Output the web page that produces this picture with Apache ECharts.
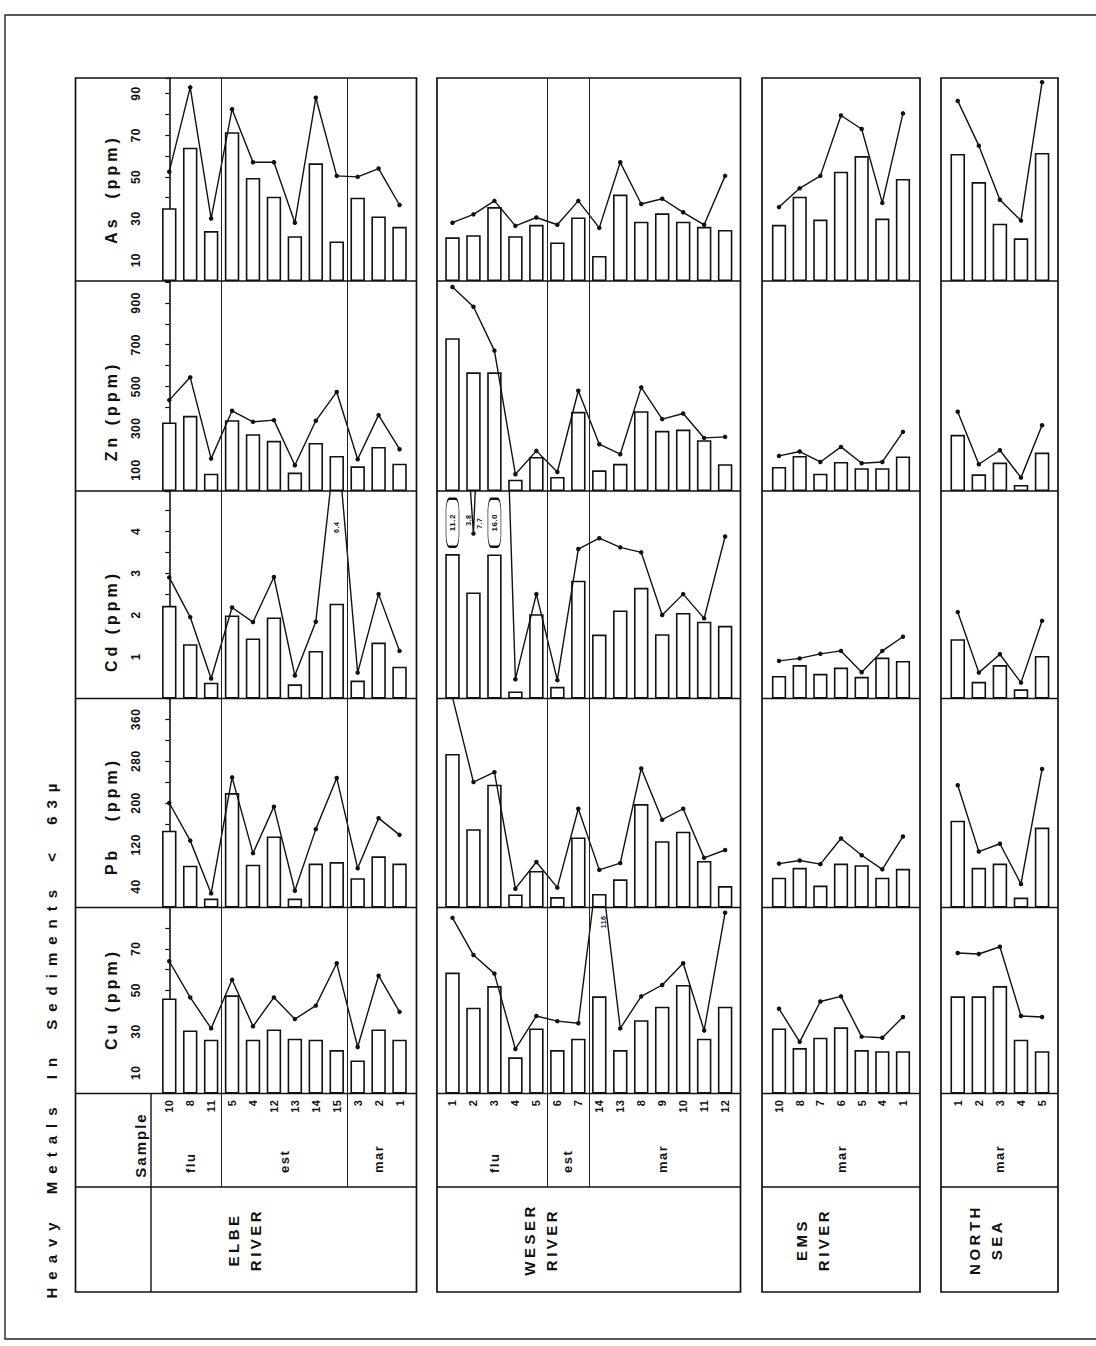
<!DOCTYPE html>
<html>
<head>
<meta charset="utf-8">
<script src="https://cdn.jsdelivr.net/npm/echarts@6/dist/echarts.min.js"></script>
<style>
html,body{margin:0;padding:0;background:#fff;}
#c{width:1096px;height:1346px;}
</style>
</head>
<body>
<div id="c"></div>
<script>
// ---------------- DATA ----------------
const TITLE = 'Heavy Metals In Sediments < 63µ';
const metrics = ['As', 'Zn', 'Cd', 'Pb', 'Cu'];
const metricTitles = ['As  (ppm)', 'Zn (ppm)', 'Cd (ppm)', 'Pb   (ppm)', 'Cu (ppm)'];
const asTickLabels = [10, 30, 50, 70, 90];
const znTickLabels = [100, 300, 500, 700, 900];
const cdTickLabels = [1, 2, 3, 4];
const pbTickLabels = [40, 120, 200, 280, 360];
const cuTickLabels = [10, 30, 50, 70];
const sampleHeader = 'Sample';

// ELBE RIVER
const elbeName = 'ELBE\nRIVER';
const elbeSamples = ['10', '8', '11', '5', '4', '12', '13', '14', '15', '3', '2', '1'];
const elbeZones = ['flu', 'est', 'mar'];
const elbeZoneSizes = [3, 6, 3];
const elbeAsBars = [35, 64, 24, 71.5, 49.5, 40.5, 21.5, 56.5, 19, 40, 31, 26];
const elbeAsLine = [52.5, 93, 30, 82.5, 57, 57, 28, 88, 50.5, 50, 54, 36.5];
const elbeZnBars = [328, 360, 83, 339, 272, 240, 88, 230, 168, 118, 211, 131];
const elbeZnLine = [435, 544, 155, 384, 331, 339, 123, 336, 474, 152, 363, 200];
const elbeCdBars = [2.22, 1.30, 0.38, 1.99, 1.44, 1.94, 0.34, 1.14, 2.27, 0.43, 1.34, 0.76];
const elbeCdLine = [2.90, 1.95, 0.48, 2.18, 1.83, 2.91, 0.55, 1.84, 6.4, 0.62, 2.50, 1.14];
const elbePbBars = [147, 80, 17, 219, 82, 136, 17, 84, 87, 56, 98, 84];
const elbePbLine = [200, 128, 27, 249, 104, 193, 32, 150, 248, 75, 171, 139];
const elbeCuBars = [46, 30.5, 26, 47.5, 26, 31, 26.5, 26, 21, 16, 31, 26];
const elbeCuLine = [64, 46.5, 31.5, 55, 32.5, 46.5, 36, 42.5, 63, 22.5, 57, 39.5];

// WESER RIVER
const weserName = 'WESER\nRIVER';
const weserSamples = ['1', '2', '3', '4', '5', '6', '7', '14', '13', '8', '9', '10', '11', '12'];
const weserZones = ['flu', 'est', 'mar'];
const weserZoneSizes = [5, 2, 7];
const weserAsBars = [21, 22, 35.5, 21.5, 27, 18.5, 30.5, 12, 41.5, 28.5, 32.5, 28.5, 26, 24.5];
const weserAsLine = [28, 32, 38.5, 26.5, 30.5, 27, 38.5, 25.5, 57, 37, 39.5, 33, 27, 50.5];
const weserZnBars = [731, 568, 568, 54, 163, 67, 379, 99, 130, 382, 288, 294, 243, 128];
const weserZnLine = [976, 882, 672, 80, 192, 91, 480, 224, 176, 496, 344, 371, 254, 259];
const weserCdBars = [3.46, 2.54, 3.45, 0.17, 2.02, 0.28, 2.82, 1.53, 2.11, 2.65, 1.54, 2.05, 1.84, 1.74];
const weserCdLine = [11.2, 3.95, 16.0, 0.46, 2.50, 0.44, 3.58, 3.84, 3.62, 3.50, 2.00, 2.50, 1.92, 3.88];
const weserPbBars = [294, 150, 235, 25, 70, 20, 134, 26, 54, 198, 127, 145, 89, 41];
const weserPbLine = [402, 240, 259, 36, 87, 38, 189, 72, 85, 266, 168, 189, 95, 110];
const weserCuBars = [58.5, 41.5, 52, 17.5, 31.5, 21, 26.5, 47, 21, 35.5, 42, 52.5, 26.5, 42];
const weserCuLine = [85, 67, 58, 21.5, 37.5, 35, 34, 116, 31.5, 47, 52.5, 63, 30.5, 87.5];

// EMS RIVER
const emsName = 'EMS\nRIVER';
const emsSamples = ['10', '8', '7', '6', '5', '4', '1'];
const emsZones = ['mar'];
const emsZoneSizes = [7];
const emsAsBars = [27, 40.5, 29.5, 52.5, 60, 30, 49];
const emsAsLine = [35.5, 44.5, 50.5, 79.5, 73, 37.5, 80.5];
const emsZnBars = [115, 168, 83, 139, 109, 109, 165];
const emsZnLine = [168, 189, 139, 211, 133, 139, 283];
const emsCdBars = [0.54, 0.80, 0.59, 0.74, 0.52, 0.98, 0.90];
const emsCdLine = [0.90, 0.96, 1.07, 1.14, 0.63, 1.14, 1.48];
const emsPbBars = [57, 76, 42, 84, 81, 57, 74];
const emsPbLine = [84, 90, 83, 132, 100, 73, 136];
const emsCuBars = [31.5, 22, 27, 32, 21, 20.5, 20.5];
const emsCuLine = [41, 25, 44.5, 47, 27.5, 27, 37];

// NORTH SEA
const nsName = 'NORTH\nSEA';
const nsSamples = ['1', '2', '3', '4', '5'];
const nsZones = ['mar'];
const nsZoneSizes = [5];
const nsAsBars = [61, 47.5, 27.5, 20.5, 61.5];
const nsAsLine = [86.5, 65, 39, 29, 95.5];
const nsZnBars = [269, 80, 136, 29, 184];
const nsZnLine = [379, 128, 195, 64, 315];
const nsCdBars = [1.42, 0.40, 0.80, 0.22, 1.02];
const nsCdLine = [2.07, 0.62, 1.06, 0.38, 1.86];
const nsPbBars = [166, 76, 84, 19, 153];
const nsPbLine = [234, 107, 122, 45, 265];
const nsCuBars = [47, 47, 52, 26, 20.5];
const nsCuLine = [68, 67.5, 71, 37.5, 37];

// off-scale value annotations
const elbeCdNotes = [{coord: [8, 4.1], text: '6.4'}];
const weserCdNotes = [
  {coord: [0, 4.21], text: '11.2', boxed: true},
  {coord: [2, 4.21], text: '16.0', boxed: true},
  {coord: [0.74, 4.27], text: '3.8'},
  {coord: [1.31, 4.2], text: '7.7'}
];
const weserCuNotes = [{coord: [7.22, 83], text: '116'}];

// ---------------- LAYOUT ----------------
const FONT = "'Liberation Sans', Arial, Helvetica, sans-serif";
const ROW_Y = [78, 281, 491, 698.5, 907.5, 1093.5];
const SAMPLE_ROW = [1093.5, 1187];
const LABEL_ROW = [1187, 1292];
const AXIS_CFG = {
  As: {max: 97.5, interval: 10, labels: asTickLabels},
  Zn: {max: 1005, interval: 100, labels: znTickLabels},
  Cd: {max: 4.97, interval: 0.5, labels: cdTickLabels},
  Pb: {max: 400, interval: 40, labels: pbTickLabels},
  Cu: {max: 90, interval: 10, labels: cuTickLabels}
};
const AXIS_TITLE_X = 111;
const AXIS_TITLE_Y = [189, 411, 621, 816, 999];
const GROUP_LAYOUT = [
  {box: [75.5, 416.5], band: [158.8, 410], labelX: 244, axisX: 152.5, leftCol: 151},
  {box: [437, 740.5], band: [442, 735.6], labelX: 540},
  {box: [762, 920], band: [768.7, 913.3], labelX: 812},
  {box: [941, 1058], band: [947.2, 1052.6], labelX: 985}
];

const groups = [
  {name: elbeName, samples: elbeSamples, zones: elbeZones, zoneSizes: elbeZoneSizes,
   bars: {As: elbeAsBars, Zn: elbeZnBars, Cd: elbeCdBars, Pb: elbePbBars, Cu: elbeCuBars},
   lines: {As: elbeAsLine, Zn: elbeZnLine, Cd: elbeCdLine, Pb: elbePbLine, Cu: elbeCuLine},
   notes: {Cd: elbeCdNotes}},
  {name: weserName, samples: weserSamples, zones: weserZones, zoneSizes: weserZoneSizes,
   bars: {As: weserAsBars, Zn: weserZnBars, Cd: weserCdBars, Pb: weserPbBars, Cu: weserCuBars},
   lines: {As: weserAsLine, Zn: weserZnLine, Cd: weserCdLine, Pb: weserPbLine, Cu: weserCuLine},
   notes: {Cd: weserCdNotes, Cu: weserCuNotes}},
  {name: emsName, samples: emsSamples, zones: emsZones, zoneSizes: emsZoneSizes,
   bars: {As: emsAsBars, Zn: emsZnBars, Cd: emsCdBars, Pb: emsPbBars, Cu: emsCuBars},
   lines: {As: emsAsLine, Zn: emsZnLine, Cd: emsCdLine, Pb: emsPbLine, Cu: emsCuLine},
   notes: {}},
  {name: nsName, samples: nsSamples, zones: nsZones, zoneSizes: nsZoneSizes,
   bars: {As: nsAsBars, Zn: nsZnBars, Cd: nsCdBars, Pb: nsPbBars, Cu: nsCuBars},
   lines: {As: nsAsLine, Zn: nsZnLine, Cd: nsCdLine, Pb: nsPbLine, Cu: nsCuLine},
   notes: {}}
];

// ---------------- BUILD ----------------
const grid = [], xAxis = [], yAxis = [], series = [], graphics = [];

function vtext(x, y, text, size, extra) {
  return {
    type: 'text', x: x, y: y, rotation: Math.PI / 2, silent: true, z: 20,
    style: Object.assign({
      text: text, fill: '#111', font: 'bold ' + size + 'px ' + FONT,
      align: 'center', verticalAlign: 'middle', textAlign: 'center', textVerticalAlign: 'middle'
    }, extra || {})
  };
}

groups.forEach(function (g, gi) {
  const L = GROUP_LAYOUT[gi];
  const n = g.samples.length;
  const bw = L.band[1] - L.band[0];
  const barW = bw / n * 0.69;
  const dividers = [];
  const centers = [];
  let acc = 0;
  g.zoneSizes.forEach(function (s, k) {
    centers.push(acc + (s - 1) / 2);
    acc += s;
    if (k < g.zoneSizes.length - 1) dividers.push(acc - 0.5);
  });
  const dividerLine = {
    silent: true, symbol: ['none', 'none'], animation: false,
    label: {show: false},
    lineStyle: {color: '#222', width: 1, type: 'solid'},
    emphasis: {disabled: true},
    data: dividers.map(function (d) { return {xAxis: d}; })
  };

  metrics.forEach(function (m, mi) {
    const gIdx = grid.length;
    grid.push({left: L.band[0], top: ROW_Y[mi], width: bw, height: ROW_Y[mi + 1] - ROW_Y[mi],
      containLabel: false, outerBoundsMode: 'none'});
    const xi = xAxis.length;
    xAxis.push({type: 'value', gridIndex: gIdx, min: -0.5, max: n - 0.5, show: false});
    const yi = yAxis.length;
    const ac = AXIS_CFG[m];
    const showAxis = gi === 0;
    yAxis.push({
      type: 'value', gridIndex: gIdx, min: 0, max: ac.max, interval: ac.interval,
      show: showAxis, position: 'left', offset: showAxis ? (L.band[0] - L.axisX) : 0,
      axisLine: {show: true, lineStyle: {color: '#111', width: 1.6}},
      axisTick: {show: true, length: 4, inside: false, lineStyle: {color: '#111', width: 1.2}},
      splitLine: {show: false},
      axisLabel: {
        show: true, rotate: 90, margin: 11, color: '#111', fontFamily: FONT, fontWeight: 'bold',
        fontSize: 12, hideOverlap: false, showMinLabel: true, showMaxLabel: true,
        formatter: function (v) {
          return ac.labels.some(function (t) { return Math.abs(t - v) < 1e-9; }) ? String(v) : '';
        }
      }
    });
    series.push({
      type: 'bar', name: g.name + ' ' + m + ' bars', xAxisIndex: xi, yAxisIndex: yi,
      data: g.bars[m].map(function (v, i) { return [i, v]; }),
      barWidth: barW, silent: true, z: 2,
      itemStyle: {color: '#fff', borderColor: '#111', borderWidth: 1.6},
      markLine: dividerLine
    });
    const notes = (g.notes[m] || []).map(function (nt) {
      return {
        coord: nt.coord, name: nt.text,
        symbol: nt.boxed ? 'roundRect' : 'rect',
        symbolSize: nt.boxed ? [13, 48] : 0,
        itemStyle: nt.boxed ? {color: '#fff', borderColor: '#111', borderWidth: 1.2} : {color: 'rgba(0,0,0,0)'},
        label: {show: true, formatter: nt.text, rotate: 90, position: 'inside', color: '#111',
          fontFamily: FONT, fontWeight: 'bold', fontSize: nt.boxed ? 8 : 7}
      };
    });
    series.push({
      type: 'line', name: g.name + ' ' + m + ' line', xAxisIndex: xi, yAxisIndex: yi,
      data: g.lines[m].map(function (v, i) { return [i, v]; }),
      symbol: 'circle', symbolSize: 4.5, showSymbol: true, clip: true, silent: true, z: 4,
      lineStyle: {color: '#111', width: 1.4}, itemStyle: {color: '#111'},
      markPoint: notes.length ? {silent: true, animation: false, data: notes, z: 6} : undefined
    });
  });

  // sample row
  const sIdx = grid.length;
  grid.push({left: L.band[0], top: SAMPLE_ROW[0], width: bw, height: SAMPLE_ROW[1] - SAMPLE_ROW[0],
    containLabel: false, outerBoundsMode: 'none'});
  xAxis.push({
    type: 'category', gridIndex: sIdx, position: 'top', data: g.samples, boundaryGap: true,
    axisLine: {show: false}, axisTick: {show: false}, splitLine: {show: false},
    axisLabel: {interval: 0, rotate: 90, inside: true, margin: 6, color: '#111', fontFamily: FONT,
      fontWeight: 'bold', fontSize: 11, hideOverlap: false}
  });
  const zxi = xAxis.length;
  xAxis.push({
    type: 'value', gridIndex: sIdx, position: 'bottom', min: -0.5, max: n - 0.5, interval: 0.5,
    axisLine: {show: false}, axisTick: {show: false}, splitLine: {show: false},
    axisLabel: {inside: true, rotate: 90, margin: 14, color: '#111', fontFamily: FONT,
      fontWeight: 'bold', fontSize: 13, hideOverlap: false, showMinLabel: true, showMaxLabel: true,
      formatter: function (v) {
        for (let k = 0; k < centers.length; k++) {
          if (Math.abs(centers[k] - v) < 1e-6) return g.zones[k];
        }
        return '';
      }}
  });
  const syi = yAxis.length;
  yAxis.push({type: 'value', gridIndex: sIdx, min: 0, max: 1, show: false});
  series.push({
    type: 'scatter', name: g.name + ' samples', xAxisIndex: zxi, yAxisIndex: syi,
    data: g.samples.map(function (s, i) { return [i, 0]; }),
    symbolSize: 0, silent: true, markLine: dividerLine
  });

  // frames
  graphics.push({type: 'rect', silent: true, z: 10,
    shape: {x: L.box[0], y: ROW_Y[0], width: L.box[1] - L.box[0], height: LABEL_ROW[1] - ROW_Y[0]},
    style: {fill: 'none', stroke: '#111', lineWidth: 1.7}});
  [ROW_Y[1], ROW_Y[2], ROW_Y[3], ROW_Y[4], ROW_Y[5], SAMPLE_ROW[1]].forEach(function (y) {
    graphics.push({type: 'line', silent: true, z: 10,
      shape: {x1: L.box[0], y1: y, x2: L.box[1], y2: y},
      style: {stroke: '#111', lineWidth: 1.7}});
  });
  if (L.leftCol) {
    graphics.push({type: 'line', silent: true, z: 10,
      shape: {x1: L.leftCol, y1: SAMPLE_ROW[0], x2: L.leftCol, y2: LABEL_ROW[1]},
      style: {stroke: '#111', lineWidth: 1.4}});
  }
  graphics.push(vtext(L.labelX, (LABEL_ROW[0] + LABEL_ROW[1]) / 2, g.name, 15, {lineHeight: 22}));
});

// outer frame
graphics.push({type: 'rect', silent: true, z: 1,
  shape: {x: 5, y: 15, width: 1100, height: 1324},
  style: {fill: 'none', stroke: '#222', lineWidth: 1.4}});
// axis titles
metricTitles.forEach(function (t, i) { graphics.push(vtext(AXIS_TITLE_X, AXIS_TITLE_Y[i], t, 16)); });
graphics.push(vtext(140, 1145, sampleHeader, 15));
graphics.push(vtext(51, 1037, TITLE, 15));

const chart = echarts.init(document.getElementById('c'), null, {renderer: 'svg', width: 1096, height: 1346});
chart.setOption({
  backgroundColor: '#fff',
  animation: false,
  grid: grid, xAxis: xAxis, yAxis: yAxis, series: series,
  graphic: {elements: graphics}
});

// letter spacing to imitate the wide typewriter lettering of the original
const groupWords = ['ELBE', 'WESER', 'EMS', 'NORTH', 'SEA', 'RIVER'];
const zoneWords = ['flu', 'est', 'mar'];
function applySpacing() {
  document.querySelectorAll('#c svg text').forEach(function (t) {
    const s = t.textContent;
    let ls = 0.5, ws = 0;
    if (s === TITLE) { ls = 8; ws = 8; }
    else if (metricTitles.indexOf(s) >= 0) ls = 4;
    else if (s === sampleHeader) ls = 2;
    else if (groupWords.indexOf(s) >= 0) ls = 3.5;
    else if (zoneWords.indexOf(s) >= 0) ls = 1.5;
    t.setAttribute('letter-spacing', ls);
    if (ws) t.setAttribute('word-spacing', ws);
  });
}
applySpacing();
chart.on('finished', applySpacing);
</script>
</body>
</html>
